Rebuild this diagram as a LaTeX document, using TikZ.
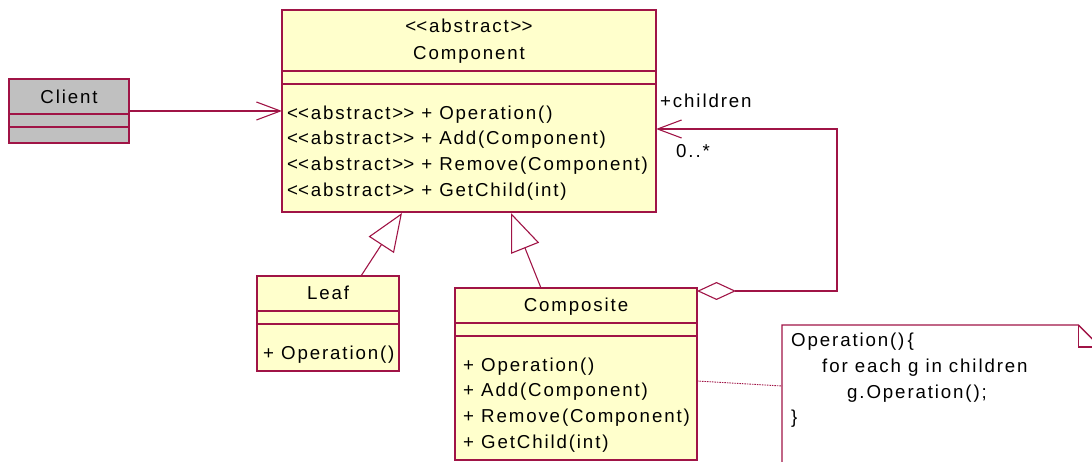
\documentclass[tikz,border=0pt]{standalone}
\usepackage{fontspec}
\setmainfont{Liberation Sans}[LetterSpace=10]
\usetikzlibrary{arrows.meta,calc}
\definecolor{umlline}{RGB}{160,20,70}
\definecolor{umlfill}{RGB}{255,255,204}
\definecolor{umlgray}{RGB}{192,192,192}
% stereotype brackets kept as two separate characters
\newcommand\stl{<\kern0pt<}
\newcommand\str{>\kern0pt>}
\begin{document}
\begin{tikzpicture}[x=1pt,y=-1pt,
  classbox/.style={draw=umlline, line width=1.3pt, fill=umlfill, anchor=north west, inner sep=0pt, outer sep=0pt},
  sepline/.style={draw=umlline, line width=1.1pt},
  umlfont/.style={font=\fontsize{18.7}{22}\selectfont},
  ltxt/.style={umlfont, anchor=base west, inner sep=0pt},
  ctxt/.style={umlfont, anchor=base, inner sep=0pt},
  link/.style={draw=umlline, line width=1.1pt},
  openhead/.style={-{Straight Barb[length=24pt,width=18pt,line width=1.1pt]}},
  generalize/.style={-{Triangle[open,length=38pt,width=30pt,line width=1.1pt,fill=white]}},
]
\useasboundingbox (0,0) rectangle (1092,462);
\clip (0,0) rectangle (1092,462);

% Client
\node[classbox, fill=umlgray, minimum width=120pt, minimum height=64pt] (client) at (9,79) {};
\draw[sepline] (9,114) -- (129,114);
\draw[sepline] (9,127) -- (129,127);
\node[ctxt] (clientname) at (69,104) {Client};

% Component
\node[classbox, minimum width=374pt, minimum height=202pt] (comp) at (282,10) {};
\draw[sepline] (282,71) -- (656,71);
\draw[sepline] (282,84) -- (656,84);
\node[ctxt] (compstereo) at (469,33) {\stl abstract\str};
\node[ctxt] (compname) at (469,59.5) {Component};
\node[ltxt] (compop1) at (287,119.5) {\stl abstract\str{} + Operation()};
\node[ltxt] (compop2) at (287,145) {\stl abstract\str{} + Add(Component)};
\node[ltxt] (compop3) at (287,170.7) {\stl abstract\str{} + Remove(Component)};
\node[ltxt] (compop4) at (287,196.5) {\stl abstract\str{} + GetChild(int)};

% Leaf
\node[classbox, minimum width=142pt, minimum height=95pt] (leaf) at (257,276) {};
\draw[sepline] (257,311) -- (399,311);
\draw[sepline] (257,324) -- (399,324);
\node[ctxt] (leafname) at (328,300) {Leaf};
\node[ltxt] (leafop) at (263,359) {+ Operation()};

% Composite
\node[classbox, minimum width=242pt, minimum height=172pt] (compo) at (455,288) {};
\draw[sepline] (455,323) -- (697,323);
\draw[sepline] (455,336) -- (697,336);
\node[ctxt] (componame) at (576,311.7) {Composite};
\node[ltxt] (compoop1) at (463,371) {+ Operation()};
\node[ltxt] (compoop2) at (463,396.7) {+ Add(Component)};
\node[ltxt] (compoop3) at (463,422.7) {+ Remove(Component)};
\node[ltxt] (compoop4) at (463,448.3) {+ GetChild(int)};

% Note
\node[minimum width=318pt, minimum height=150pt, anchor=north west, inner sep=0pt] (note) at (782,325) {};
\draw[draw=umlline, line width=1.3pt, fill=white]
  (note.south west) -- (note.north west) -- ($(note.north east)+(-22,0)$)
  -- ($(note.north east)+(0,22)$) -- (note.south east);
\draw[draw=umlline, line width=1.1pt]
  ($(note.north east)+(-22,0)$) -- ($(note.north east)+(-22,22)$) -- ($(note.north east)+(0,22)$);
\node[ltxt] (note1) at (791,346.7) {Operation()\,\{};
\node[ltxt] (note2) at (822,372.3) {for each g in children};
\node[ltxt] (note3) at (847,398.3) {g.Operation();};
\node[ltxt] (note4) at (791,423) {\}};

% Client uses Component
\draw[link, openhead] (client.east) -- (comp.west);

% Generalizations
\draw[link, generalize] ($(leaf.north west)+(104,0)$) -- ($(comp.south west)+(120,1)$);
\draw[link, generalize] ($(compo.north west)+(86,0)$) -- ($(comp.south west)+(229,1)$);

% Aggregation of children
\coordinate (turn) at (837,129);
\draw[link, {Diamond[open,length=39pt,width=18pt,line width=1.1pt]}-{Straight Barb[length=24pt,width=18pt,line width=1.1pt]}]
  ($(compo.north east)+(0,3)$) -| (turn) -- ($(comp.north east)+(0,119)$);
\node[ltxt] (childrole) at (660,107.3) {+children};
\node[ltxt] (childmult) at (676,157.7) {0..*};

% Note attachment
\draw[draw=umlline, line width=0.9pt, dash pattern=on 1.5pt off 1pt]
  ($(compo.north east)+(0,93)$) -- ($(note.north west)+(0,61)$);
\end{tikzpicture}
\end{document}
